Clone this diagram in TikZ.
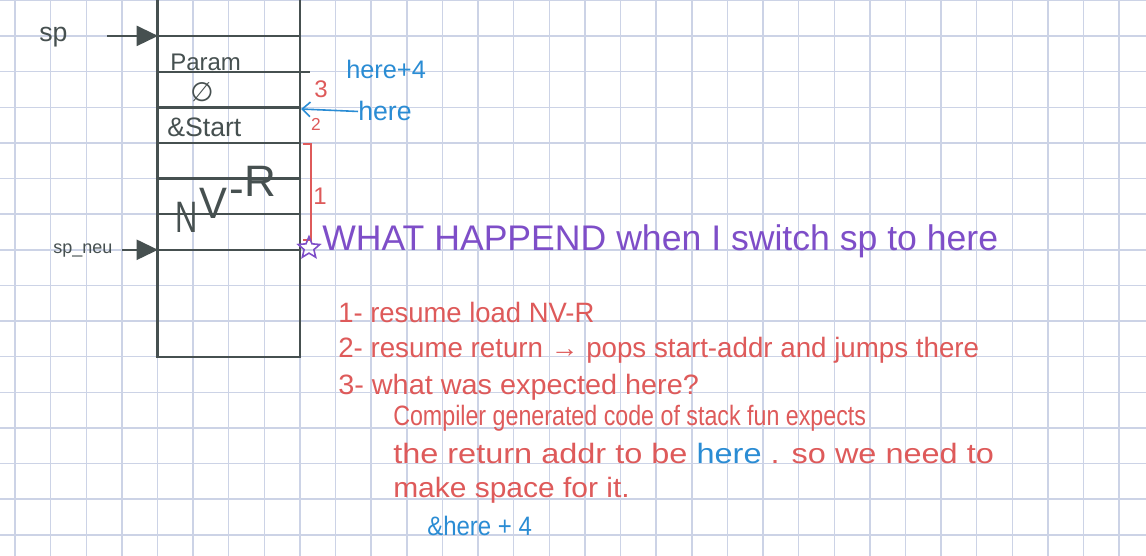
\documentclass[tikz,border=0pt]{standalone}
\usepackage{fontspec}
\setmainfont{Liberation Sans}
\newfontfamily\symfont{DejaVu Sans}
\usetikzlibrary{arrows.meta,shapes.geometric}
\definecolor{gridc}{RGB}{204,211,230}
\definecolor{ink}{RGB}{70,80,80}
\definecolor{redink}{RGB}{222,90,90}
\definecolor{blueink}{RGB}{42,140,212}
\definecolor{purpink}{RGB}{126,78,200}
\newcommand{\fsz}[1]{\fontsize{#1pt}{#1pt}\selectfont}
\tikzset{
  gridline/.style={gridc, line width=1.1pt},
  cellline/.style={ink, line width=1.7pt},
  lbl/.style={inner sep=0pt, anchor=base west},
  inktxt/.style={lbl, text=ink},
  redtxt/.style={lbl, text=redink, font=\fsz{21}},
  bluetxt/.style={lbl, text=blueink},
  ptr/.style={ink, line width=1.7pt, -{Triangle[length=16pt,width=15pt]}},
}
\begin{document}
\begin{tikzpicture}[x=0.75pt,y=-0.75pt]
\useasboundingbox (0,0) rectangle (1146,556);
\fill[white] (0,0) rectangle (1146,556);
% grid
\foreach \i in {0,...,31} \draw[gridline] ({15+35.62*\i},0) -- ({15+35.62*\i},556);
\foreach \j in {0,...,15} \draw[gridline] (0,{0.5+35.62*\j}) -- (1146,{0.5+35.62*\j});
% stack box
\draw[cellline] (157.5,0) -- (157.5,356.7) -- (300,356.7) -- (300,0);
\foreach \y in {35.9,107.4,143,178.6,214.2,249.8} \draw[cellline] (157.5,\y) -- (300,\y);
\draw[cellline] (157.5,71.7) -- (310,71.7);
% cell texts
\node[inktxt, font=\fsz{18}] (param) at (170,71) {Param};
\node[text=ink, inner sep=0pt, font=\symfont\fsz{20}] (empty) at (202,92) {∅};
\node[inktxt, font=\fsz{20}] (start) at (167,137) {\&Start};
\node[inktxt, font=\fsz{33}] (nvr) at (175,233) {\scalebox{0.7}[1]{N}\hspace{1.5pt}\raisebox{11pt}{\scalebox{0.95}[1]{V}}\hspace{1.5pt}\raisebox{22pt}{-}\raisebox{27pt}{R}};
% stack pointers
\node[inktxt, font=\fsz{20}] (sp) at (39,42) {sp};
\coordinate (spfrom) at (107,35.9);
\coordinate (spto) at (158,35.9);
\draw[ptr] (spfrom) -- (spto);
\node[inktxt, font=\fsz{13.5}] (spneu) at (53,253) {sp\_neu};
\coordinate (spneufrom) at (122,249.8);
\coordinate (spneuto) at (158,249.8);
\draw[ptr] (spneufrom) -- (spneuto);
% right side marks
\node[bluetxt, font=\fsz{19}] (here4) at (346,79) {here+4};
\node[bluetxt, font=\fsz{20}] (here) at (358,121) {here};
\coordinate (heretip) at (301,109);
\draw[blueink, line width=1.2pt, -{Straight Barb[length=6pt,width=11pt]}] (here.west) -- (heretip);
\node[text=redink, inner sep=0pt, font=\fsz{18}] (n3) at (321,89) {3};
\node[text=redink, inner sep=0pt, font=\fsz{13}] (n2) at (316,124) {2};
\node[text=redink, inner sep=0pt, font=\fsz{18}] (n1) at (320,196) {1};
\coordinate (bra) at (303,144);
\coordinate (brb) at (303,240);
\draw[redink, line width=1.2pt] (bra) -- ++(8,0) |- (brb);
\node[star, star points=5, star point ratio=2.2, draw=purpink, line width=1.2pt, minimum size=17pt, inner sep=0pt] (star) at (309,248) {};
\node[lbl, text=purpink, font=\fsz{26.7}] (what) at (322,250) {WHAT HAPPEND when I switch sp to here};
% explanation list
\node[redtxt] (l1) at (338,322) {\scalebox{0.98}[1]{1- resume load NV-R}};
\node[redtxt] (l2) at (338,357) {\scalebox{0.99}[1]{2- resume return → pops start-addr and jumps there}};
\node[redtxt] (l3) at (338,394) {\scalebox{1.03}[1]{3- what was expected here?}};
\node[redtxt] (l4) at (393,425) {\scalebox{0.83}[1]{Compiler generated code of stack fun expects}};
\node[redtxt] (l5) at (393,463) {\scalebox{1.16}[1]{the return addr to be \textcolor{blueink}{here} . so we need to}};
\node[redtxt] (l6) at (393,497) {\scalebox{1.07}[1]{make space for it.}};
\node[bluetxt, font=\fsz{20}] (l7) at (427,535) {\scalebox{0.9}[1]{\&here + 4}};
\end{tikzpicture}
\end{document}
